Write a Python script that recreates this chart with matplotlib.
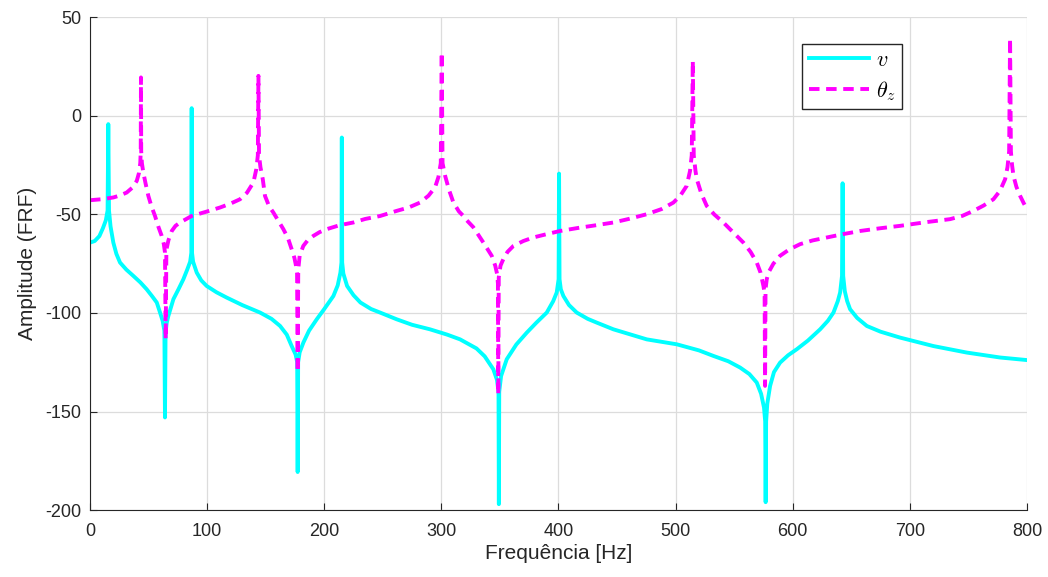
import matplotlib.pyplot as plt
import numpy as np

plt.rcParams['font.family'] = ['Liberation Sans', 'DejaVu Sans']
plt.rcParams['axes.unicode_minus'] = False
plt.rcParams['mathtext.fontset'] = 'cm'

# FRF - deslocamento v
v_freq = [0, 4, 8, 11, 13.5, 15, 15.6, 16.2, 17.5, 19.9, 22.5, 25.6, 31, 37, 43, 48.4, 53, 57, 59.8, 62, 63.5,
          64.0, 64.5, 65.5, 66.9, 71.2, 75.5, 79.7, 83, 85.5, 86.5, 86.8, 87.1, 88, 91.1, 95, 99.6, 108,
          116.7, 130, 145.2, 155, 162.3, 168, 172.2, 175.5, 176.9, 177.3, 177.7, 179, 182.2, 187, 193.6,
          200, 207.8, 211.5, 213.8, 214.7, 215, 215.3, 216.3, 219.5, 225, 230.9, 240, 247.7, 261.8, 275,
          290.3, 305, 316, 330, 337, 344.4, 347.5, 348.8, 349.1, 349.4, 351, 355.8, 364, 372.9, 381, 390,
          395.5, 398.5, 400.1, 400.5, 400.9, 402, 404.2, 409, 415.6, 425, 432.7, 446.9, 475.4, 501, 520,
          532.3, 545, 555.1, 563, 569.3, 573, 575.5, 576.5, 576.9, 577.3, 578.3, 580.7, 584, 589.2, 596,
          603.5, 613, 623.4, 630, 634.8, 638.5, 640.5, 642.1, 642.6, 643.1, 644.5, 646.5, 649, 655, 663.3,
          675, 691.7, 720.2, 748.7, 777.1, 800]
v_amp = [-64.3, -63.5, -61, -57, -53, -48, -4.2, -48, -56, -64.3, -70, -74.4, -78, -81.2, -84.5, -88, -91.5, -94.7, -99.8, -104, -109,
         -153, -110, -105, -101.5, -93, -88, -82.9, -78, -74, -69.5, 3.9, -69.5, -74, -79.5, -83.5, -86.3, -89.5,
         -92.2, -96, -99.8, -103, -106.6, -111, -116.8, -121, -125, -180.7, -125, -120, -115, -109, -103.2,
         -98, -91.4, -86, -79.5, -74.4, -11, -74.4, -80, -86.3, -91, -94.7, -98, -99.8, -103.2, -106,
         -108.3, -111, -113.4, -118, -122, -128.6, -134, -140, -197, -140, -132, -123.5, -116, -110, -105, -99.8,
         -94, -89.6, -82.9, -29.3, -82.9, -88, -91.4, -96, -99.8, -103, -104.9, -108.3, -113.4, -115.9, -119,
         -121.8, -124.5, -127.7, -131, -135.3, -141, -148, -155, -196, -155, -146, -137, -130, -125.2, -121.5,
         -118.4, -114, -108.3, -104, -99.8, -94, -89.6, -81.2, -34.2, -81.2, -89, -94, -98.1, -102.5, -106.6,
         -109.5, -112.5, -116.8, -120.1, -122.6, -123.9]

# FRF - rotação theta_z
t_freq = [0, 10, 19.9, 26, 31.3, 36, 39.9, 41.8, 42.9, 43.3, 43.5, 43.7, 44.3, 45.5, 47.5, 49.8, 52.5, 55.5, 58.5,
          61.2, 63, 64.0, 64.6, 65.2, 67, 69.8, 73, 76.9, 86.8, 100, 111, 120, 128.1, 134, 139.5, 142, 143.3,
          143.8, 144.3, 145.5, 147.5, 149.4, 153, 156.5, 161, 165.1, 169, 172.2, 174.5, 175.9, 176.8, 177.3,
          177.8, 179, 182.1, 186, 190.7, 196, 202, 213, 224.8, 235, 247.7, 261.9, 272, 281.8, 289, 294.6,
          297.5, 299.5, 300.3, 301, 303.2, 306.5, 310.3, 315, 318.8, 321.7, 327.3, 335.9, 343, 346, 347.5,
          348.3, 348.6, 349, 350.5, 352.9, 356.5, 361.5, 370, 378.5, 390, 401.4, 418.4, 432, 446.9, 460,
          475.4, 488, 498.1, 504, 509.5, 512.3, 513.8, 514.7, 515.5, 517, 518.1, 522, 526.6, 533, 540.8,
          549, 557.9, 564, 569.3, 572.5, 575, 576, 576.4, 576.8, 577.8, 579.3, 583.5, 589.2, 597, 606.3,
          617, 629.1, 643, 657.6, 675, 691.7, 713, 734.4, 745, 754.3, 763, 771.4, 777, 781.4, 783.4, 784.8,
          785.6, 786.3, 787.3, 788.5, 791, 794.2, 797, 800]
t_amp = [-42.8, -42.3, -41.4, -40.3, -38.9, -36.5, -33, -29, -24, -18, 19.5, -18, -24, -28.7, -34.5, -40.6, -46, -50.8, -56.5,
         -60.9, -65, -69.3, -113.4, -68, -63, -58.4, -55.8, -54.1, -50.8, -48.5, -46.5, -44.5, -42.3, -39, -33.8, -27, -20,
         20.3, -20, -26, -32.1, -40.6, -46, -49, -53.5, -57.5, -62, -67.7, -72, -76.1, -80, -130,
         -78, -71, -66, -63, -60.9, -59, -57.5, -55.5, -54.1, -52.3, -50.8, -48.2, -46.5, -44, -40.5, -36.3,
         -31, -24, 32.2, -24, -30.4, -37.5, -44, -48.5, -50.8, -53, -56.5, -64.3, -71, -76, -80,
         -85, -141.3, -82, -76, -72.7, -69, -66, -63.5, -61.7, -60, -58.4, -56.7, -55.5, -54.1, -52.3,
         -49.9, -47.3, -44, -40.5, -35.5, -28, -20, 27.9, -20, -28, -32.1, -39.5, -45.7, -50, -54.1,
         -59, -64.3, -69, -74.4, -79.5, -86.3, -90, -137, -88, -83, -79.5, -75, -71, -67.8, -65.1,
         -63.2, -61.7, -60, -58.4, -57, -55.8, -54, -52.4, -50.7, -48.2, -45.5, -42.3, -38, -32.1, -26, -18,
         39.3, -18, -25, -30.4, -36, -40.6, -44, -47.4]

fig = plt.figure(figsize=(10.48, 5.77), dpi=100)
ax = fig.add_axes([0.0859, 0.116, 0.894, 0.854])

ax.plot(v_freq, v_amp, color='#00FFFF', lw=2.8, label=r'$v$')
ax.plot(t_freq, t_amp, color='#FF00FF', lw=2.8, linestyle='--', dashes=(2.7, 1.7), label=r'$\theta_z$')

ax.set_xlim(0, 800)
ax.set_ylim(-200, 50)
ax.set_xticks(np.arange(0, 801, 100))
ax.set_yticks(np.arange(-200, 51, 50))
ax.grid(True, color='#dcdcdc', lw=0.9)
ax.set_axisbelow(True)
ax.spines['top'].set_visible(False)
ax.spines['right'].set_visible(False)
ax.spines['left'].set_color('#262626')
ax.spines['bottom'].set_color('#262626')
ax.tick_params(direction='in', length=5, labelsize=13, colors='#262626')
ax.tick_params(axis='x', pad=9)
ax.tick_params(axis='y', pad=6)
ax.set_xlabel('Frequência [Hz]', fontsize=15, color='#262626', labelpad=3)
ax.set_ylabel('Amplitude (FRF)', fontsize=15, color='#262626', labelpad=6)

leg = ax.legend(loc='upper right', bbox_to_anchor=(0.8666, 0.9467), borderaxespad=0, fontsize=16,
                fancybox=False, framealpha=1, edgecolor='#262626', handlelength=2.7, borderpad=0.3,
                labelspacing=0.35, handletextpad=0.3)
leg.get_frame().set_linewidth(1.0)

plt.savefig('out.png', dpi=100)
